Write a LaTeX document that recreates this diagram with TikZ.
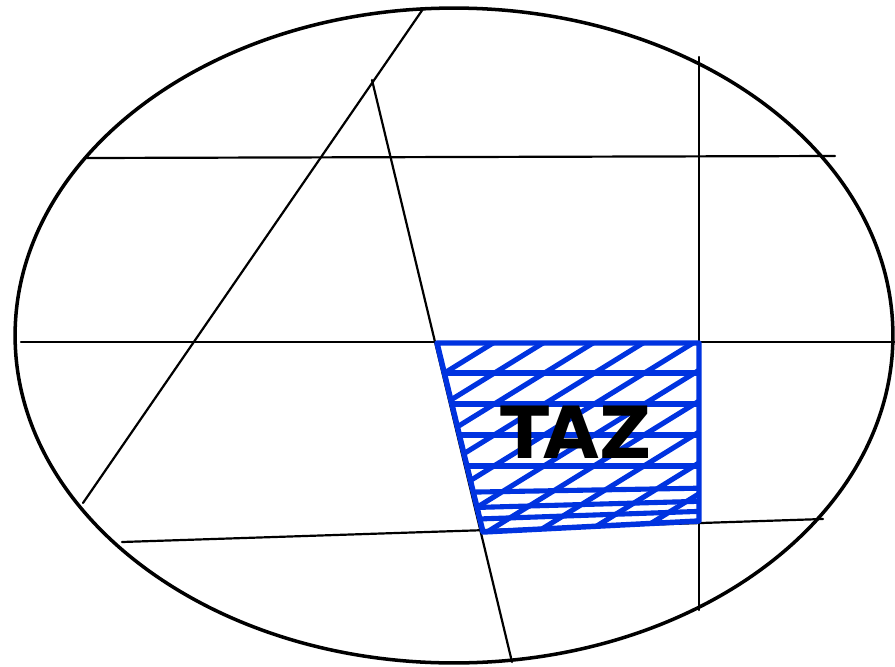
\documentclass[tikz,border=0pt]{standalone}
\usepackage{fontspec}
\usetikzlibrary{calc}
\newfontfamily\tazfont{DejaVu Sans}
\definecolor{ZoneBlue}{HTML}{0033E0}

\begin{document}
\begin{tikzpicture}[x=0.02cm,y=-0.02cm,line cap=round,line join=round]
  \useasboundingbox (0,0) rectangle (895,666);
  \coordinate (a1) at (423,9);   \coordinate (a2) at (83,503);
  \coordinate (b1) at (372,80);  \coordinate (b2) at (512,662);
  \coordinate (h1) at (87,158);  \coordinate (h2) at (835,156);
  \coordinate (m1) at (21,342);  \coordinate (m2) at (895,342);
  \coordinate (v1) at (699,57);  \coordinate (v2) at (699,610);
  \coordinate (l1) at (122,542); \coordinate (l2) at (823,519);
  \coordinate (q1) at (437,343); \coordinate (q2) at (699,343);
  \coordinate (q3) at (699,521); \coordinate (q4) at (483,532);
  \draw[line width=2pt] (454,335.5) ellipse [x radius=8.78cm,y radius=6.55cm];
  \draw[line width=1.25pt] (a1) -- (a2);
  \draw[line width=1.25pt] (b1) -- (b2);
  \draw[line width=1.25pt] (h1) -- (h2);
  \draw[line width=1.25pt] (m1) -- (m2);
  \draw[line width=1.25pt] (v1) -- (v2);
  \draw[line width=1.25pt] (l1) -- (l2);
  \begin{scope}
    \clip (q1) -- (q2) -- (q3) -- (q4) -- cycle;
    \foreach \s in {0,1,...,12}
      \draw[ZoneBlue,line width=2.9pt] (166+50*\s,545) -- ++(340,-210);
    \foreach \ya/\yb in {373/373,404/404,435/435,466/466,493/488,509/501,521/511}
      \draw[ZoneBlue,line width=2.9pt] (420,\ya) -- (710,\yb);
  \end{scope}
  \draw[ZoneBlue,line width=3.1pt] (q1) -- (q2) -- (q3) -- (q4) -- cycle;
  \node[inner sep=0pt,font=\tazfont\bfseries\fontsize{41}{42}\selectfont] (taz) at (576,432) {TAZ};
\end{tikzpicture}
\end{document}
